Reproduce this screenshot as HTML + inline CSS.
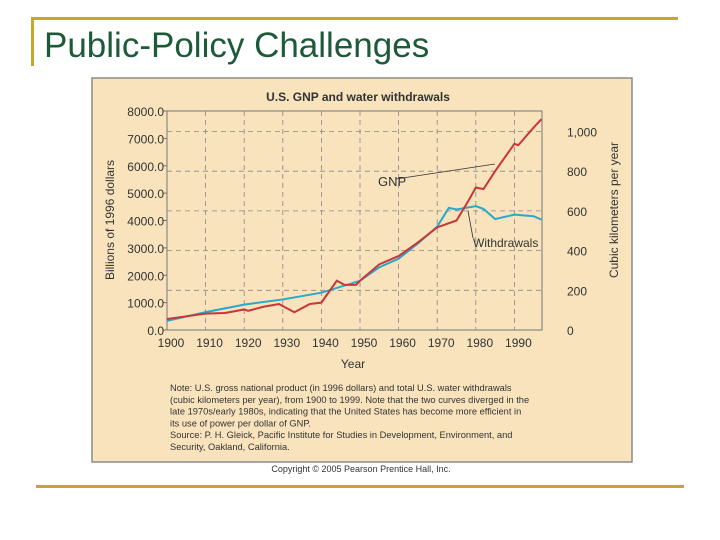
<!DOCTYPE html>
<html><head><meta charset="utf-8"><style>
body{margin:0;width:720px;height:540px;background:#fff;position:relative;overflow:hidden;font-family:"Liberation Sans",sans-serif}
.gold{position:absolute;background:#c9a628}
</style></head><body>
<div class="gold" style="left:33px;top:17px;width:645px;height:3px"></div>
<div class="gold" style="left:31px;top:17px;width:3px;height:49px"></div>
<div class="gold" style="left:36px;top:485px;width:648px;height:3px"></div>
<div style="position:absolute;left:44px;top:26px;font-size:35px;color:#1d5a3a">Public-Policy Challenges</div>
<svg id="c" width="720" height="540" style="position:absolute;left:0;top:0" font-family="Liberation Sans, sans-serif"></svg>
<script>
const years=[1900,1905,1910,1915,1920,1921,1925,1929,1933,1937,1940,1944,1946,1949,1950,1955,1960,1965,1970,1975,1978,1980,1982,1985,1990,1991,1995,1997];
const gnp=[400,500,600,620,750,700,850,950,650,950,1000,1800,1650,1650,1800,2400,2700,3200,3750,4000,4700,5200,5150,5800,6800,6750,7400,7700];
const wYears=[1900,1910,1920,1930,1940,1950,1955,1960,1965,1970,1973,1975,1980,1982,1985,1990,1995,1997];
const withdrawals=[46,90,128,154,188,248,316,359,436,521,615,607,624,610,559,581,573,556];
const leftTicks=["0.0","1000.0","2000.0","3000.0","4000.0","5000.0","6000.0","7000.0","8000.0"];
const rightTicks=[0,200,400,600,800,1000];
const decades=[1900,1910,1920,1930,1940,1950,1960,1970,1980,1990];
const noteLines=["Note: U.S. gross national product (in 1996 dollars) and total U.S. water withdrawals","(cubic kilometers per year), from 1900 to 1999. Note that the two curves diverged in the","late 1970s/early 1980s, indicating that the United States has become more efficient in","its use of power per dollar of GNP.","Source: P. H. Gleick, Pacific Institute for Studies in Development, Environment, and","Security, Oakland, California."];
const svg=document.getElementById('c');const NS='http://www.w3.org/2000/svg';
const L=167,R=542,T=111,B=330;
const x=y=>L+(y-1900)*3.86;
const yl=v=>B-v*(B-T)/8000;
const yr=v=>B-v*0.1985;
function mk(t,a,p){const e=document.createElementNS(NS,t);for(const k in a)e.setAttribute(k,a[k]);(p||svg).appendChild(e);return e;}
let e=mk('rect',{x:92,y:78,width:540,height:384,fill:'#f8e3bd',stroke:'#8a8a8a','stroke-width':1.5});

e=mk('text',{x:358,y:101,'text-anchor':'middle','font-size':12,'font-weight':'bold',fill:'#333'});e.textContent='U.S. GNP and water withdrawals';

mk('rect',{x:L,y:T,width:R-L,height:B-T,fill:'none',stroke:'#777','stroke-width':1});
decades.forEach(d=>{if(d>1900){e=mk('line',{x1:x(d),x2:x(d),y1:T,y2:B,stroke:'#888','stroke-dasharray':'5,4','stroke-width':0.8});}
 e=mk('text',{x:x(d)+4,y:347,'text-anchor':'middle','font-size':12,fill:'#333'});e.textContent=d;});
rightTicks.forEach(v=>{if(v>0){e=mk('line',{x1:L,x2:R,y1:yr(v),y2:yr(v),stroke:'#888','stroke-dasharray':'5,4','stroke-width':0.8});}
 e=mk('text',{x:567,y:yr(v)+5,'font-size':12,fill:'#333'});e.textContent=v>=1000?'1,000':v;});
leftTicks.forEach((t,i)=>{const yy=yl(i*1000);mk('line',{x1:L-4,x2:L,y1:yy,y2:yy,stroke:'#777'});
 e=mk('text',{x:164,y:yy+5,'text-anchor':'end','font-size':12,fill:'#333'});e.textContent=t;});
e=mk('text',{x:353,y:368,'text-anchor':'middle','font-size':12,fill:'#333'});e.textContent='Year';
e=mk('text',{x:0,y:0,'text-anchor':'middle','font-size':12,fill:'#333',transform:'translate(114,220) rotate(-90)'});e.textContent='Billions of 1996 dollars';
e=mk('text',{x:0,y:0,'text-anchor':'middle','font-size':12,fill:'#333',transform:'translate(618,210) rotate(-90)'});e.textContent='Cubic kilometers per year';
e=mk('polyline',{points:wYears.map((y,i)=>x(y)+','+yr(withdrawals[i])).join(' '),fill:'none',stroke:'#2aa8cc','stroke-width':2});

e=mk('polyline',{points:years.map((y,i)=>x(y)+','+yl(gnp[i])).join(' '),fill:'none',stroke:'#c8363a','stroke-width':2});

mk('line',{x1:396,y1:179,x2:495,y2:164,stroke:'#333','stroke-width':0.8});
mk('line',{x1:468,y1:211,x2:473,y2:238,stroke:'#333','stroke-width':0.8});
e=mk('text',{x:378,y:186,'font-size':13,fill:'#333'});e.textContent='GNP';
e=mk('text',{x:473,y:247,'font-size':12,fill:'#333'});e.textContent='Withdrawals';
noteLines.forEach((s,i)=>{e=mk('text',{x:170,y:391+i*11.8,'font-size':9.3,fill:'#333'});e.textContent=s;});
e=mk('text',{x:361,y:472,'text-anchor':'middle','font-size':9,fill:'#333'});e.textContent='Copyright © 2005 Pearson Prentice Hall, Inc.';
</script>
</body></html>
